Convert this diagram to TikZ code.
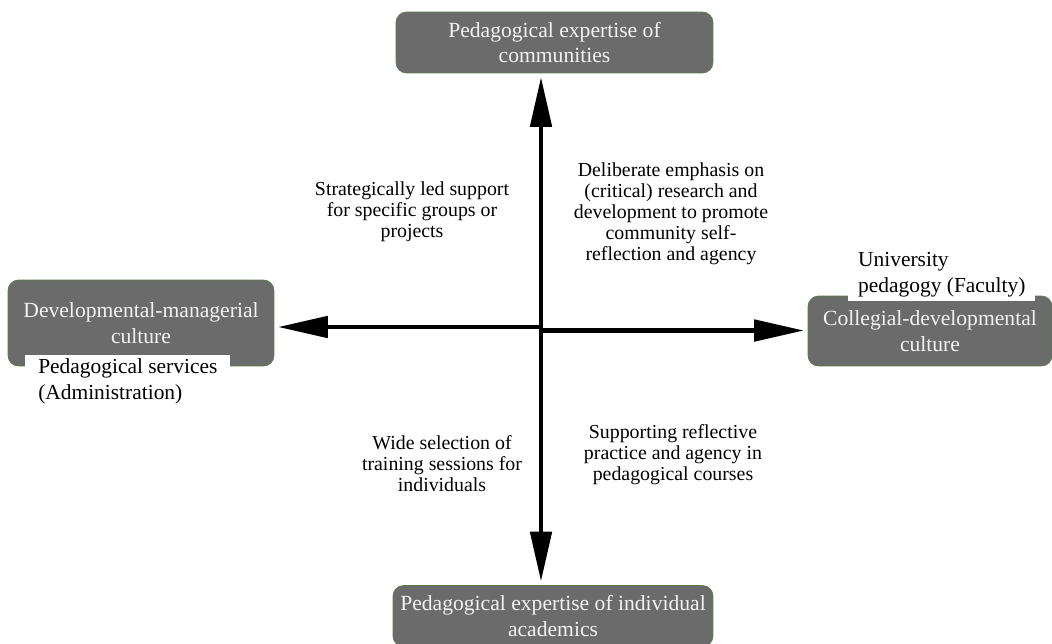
\documentclass[tikz,border=0pt]{standalone}
\usepackage{fontspec}
\setmainfont{Liberation Serif}
\usetikzlibrary{arrows.meta}
\definecolor{boxgray}{RGB}{107,107,107}
\definecolor{boxedge}{RGB}{90,122,74}

\tikzset{
culture/.style={draw=boxedge,fill=boxgray,rounded corners=6pt,text=white!95!black,align=center,font=\fontsize{12.3}{14.7}\selectfont},
quadrant/.style={align=center,font=\fontsize{11.3}{11.9}\selectfont},
unit/.style={fill=white,align=left,inner xsep=5pt,inner ysep=2pt,font=\fontsize{12.2}{14.7}\selectfont},
axis/.style={line width=2.8pt,-{Triangle[length=1cm,width=0.42cm]},shorten >=2pt}
}

\begin{document}
\begin{tikzpicture}[x=0.02cm,y=-0.02cm]
\useasboundingbox (0,0) rectangle (1052,643);

% the four poles
\node[culture,minimum width=6.34cm,minimum height=1.22cm] (top) at (554.5,42.5) {Pedagogical expertise of\\communities};
\node[culture,minimum width=5.32cm,minimum height=1.72cm] (left) at (141,323) {Developmental-managerial\\culture};
\node[culture,minimum width=4.88cm,minimum height=1.40cm] (right) at (930,331) {Collegial-developmental\\culture};
\node[culture,minimum width=6.40cm,minimum height=1.22cm] (bottom) at (553,616) {Pedagogical expertise of individual\\academics};

% axes
\coordinate (c) at (541,327);
\draw[axis] (c) -- (c |- top.south);
\draw[axis] (c) -- (c |- bottom.north);
\draw[axis] (c) -- (left.east |- c);
\draw[axis] ([yshift=-2pt]c) -- ([yshift=-2pt]right.west |- c);

% organisational units
\node[unit,anchor=north west,minimum width=4.1cm] (admin) at (25,355) {Pedagogical services\\(Administration)};
\node[unit,anchor=south west,minimum width=3.74cm] (faculty) at (848,301) {University\\pedagogy (Faculty)};

% quadrant texts
\node[quadrant] (q1) at (412,212) {Strategically led support\\for specific groups or\\projects};
\node[quadrant] (q2) at (671,214) {Deliberate emphasis on\\(critical) research and\\development to promote\\community self-\\reflection and agency};
\node[quadrant] (q3) at (442,464) {Wide selection of\\training sessions for\\individuals};
\node[quadrant] (q4) at (673,455) {Supporting reflective\\practice and agency in\\pedagogical courses};
\end{tikzpicture}
\end{document}
